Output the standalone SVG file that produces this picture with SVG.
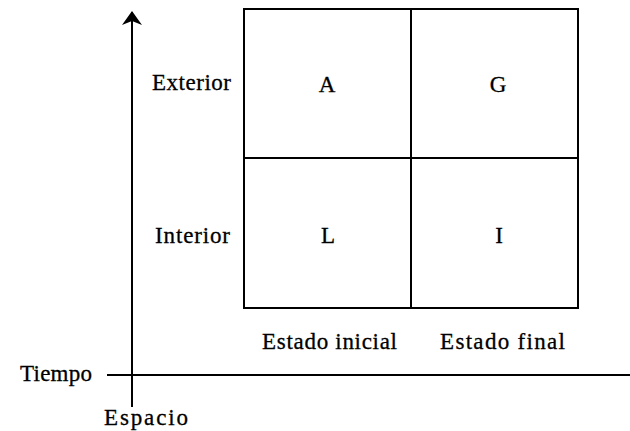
<svg xmlns="http://www.w3.org/2000/svg" width="630" height="431" viewBox="0 0 630 431">
<style>
text{font-family:"Liberation Serif","Times New Roman",serif;font-size:23px;fill:#000;stroke:#000;stroke-width:0.3}
.c{text-anchor:middle}
.ln{stroke:#000;stroke-width:2;fill:none}
</style>
<defs>
<marker id="ah" viewBox="0 0 14 20" refX="13" refY="10" markerWidth="14" markerHeight="20" markerUnits="userSpaceOnUse" orient="auto">
<path d="M0,0 L14,10 L0,20 L4,10 Z" fill="#000"/>
</marker>
</defs>
<rect width="630" height="431" fill="#fff"/>
<g id="connectors">
<line class="ln" x1="132" y1="407" x2="132" y2="12" marker-end="url(#ah)"/>
<line class="ln" x1="107" y1="375" x2="630" y2="375"/>
</g>
<g id="grid">
<rect class="ln" x="244" y="9" width="334" height="299"/>
<line class="ln" x1="411" y1="9" x2="411" y2="308"/>
<line class="ln" x1="244" y1="158" x2="578" y2="158"/>
</g>
<g id="cell-A"><text class="c" x="327" y="92">A</text></g>
<g id="cell-G"><text class="c" x="498" y="92">G</text></g>
<g id="cell-L"><text class="c" x="328" y="243">L</text></g>
<g id="cell-I"><text class="c" x="499" y="243">I</text></g>
<g id="label-exterior"><text x="152" y="90" textLength="79" lengthAdjust="spacing">Exterior</text></g>
<g id="label-interior"><text x="155" y="243" textLength="75" lengthAdjust="spacing">Interior</text></g>
<g id="label-inicial"><text x="262" y="349" textLength="135" lengthAdjust="spacing">Estado inicial</text></g>
<g id="label-final"><text x="440" y="349" textLength="125" lengthAdjust="spacing">Estado final</text></g>
<g id="label-tiempo"><text x="20" y="381" textLength="72" lengthAdjust="spacing">Tiempo</text></g>
<g id="label-espacio"><text x="104" y="425" textLength="84" lengthAdjust="spacing">Espacio</text></g>
</svg>
